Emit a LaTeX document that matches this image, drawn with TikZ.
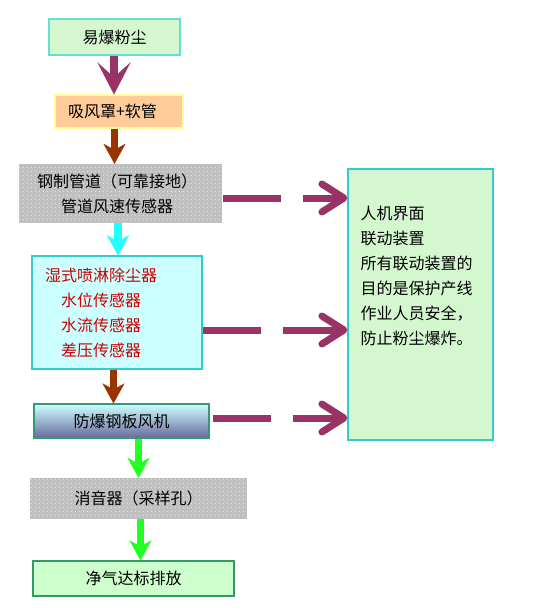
\documentclass[tikz,border=0pt]{standalone}
\usepackage{fontspec}
\setmainfont{Noto Sans CJK SC}
\usetikzlibrary{arrows.meta,positioning,patterns.meta}
\definecolor{dust-mint}{HTML}{D4F7D0}
\definecolor{dust-teal}{HTML}{66DDD0}
\definecolor{hood-peach}{HTML}{FFCC99}
\definecolor{hood-cream}{HTML}{FFFF99}
\definecolor{pipe-grey}{HTML}{C0C0C0}
\definecolor{wash-ice}{HTML}{CCFFFF}
\definecolor{wash-teal}{HTML}{33CCCC}
\definecolor{wash-red}{HTML}{CC0000}
\definecolor{fan-top}{HTML}{CCFFFF}
\definecolor{fan-bottom}{HTML}{6A6A9C}
\definecolor{fan-edge}{HTML}{339977}
\definecolor{vent-green}{HTML}{CCFFCC}
\definecolor{vent-edge}{HTML}{339966}
\definecolor{flow-plum}{HTML}{993366}
\definecolor{flow-rust}{HTML}{993300}
\definecolor{flow-cyan}{HTML}{22FFFF}
\definecolor{flow-lime}{HTML}{22FF22}

\begin{document}
\begin{tikzpicture}[x=1pt, y=-1pt, font=\fontsize{16pt}{25pt}\selectfont,
    box/.style={line width=1.2pt, inner sep=0pt},
    dots box/.style={fill=pipe-grey, inner sep=0pt, postaction={pattern={Dots[radius=0.55pt,distance=4pt]}, pattern color=white}},
    drop/.style={line width=7.5pt, -{Stealth[length=20pt, width=22pt, inset=6pt, line width=0.1pt]}},
    big drop/.style={line width=8pt, -{Stealth[length=32pt, width=33pt, inset=15pt, line width=0.1pt]}},
    link/.style={line width=7pt, flow-plum, dash pattern=on 58pt off 22pt, -{Straight Barb[length=22pt, width=28pt, round]}}]

    \useasboundingbox (0,0) rectangle (534,615);

    \node[box, draw=dust-teal, fill=dust-mint, minimum width=131pt, minimum height=36pt] (1) at (114.5,37) {易爆粉尘};
    \node[box, draw=hood-cream, fill=hood-peach, minimum width=128pt, minimum height=33pt, text width=102pt, inner xsep=13pt, align=left] (2) at (119,111.5) {吸风罩+软管};
    \node[dots box, minimum width=203pt, minimum height=59pt, text width=167pt, inner xsep=18pt, align=left] (3) at (120.5,193.5) {钢制管道（可靠接地）\\\hspace*{1.5em}管道风速传感器};
    \node[box, draw=wash-teal, fill=wash-ice, text=wash-red, minimum width=170pt, minimum height=113pt, text width=144pt, inner xsep=13pt, align=left] (4) at (117,312.5) {湿式喷淋除尘器\\\hspace*{1em}水位传感器\\\hspace*{1em}水流传感器\\\hspace*{1em}差压传感器};
    \node[box, draw=fan-edge, top color=fan-top, bottom color=fan-bottom, minimum width=175pt, minimum height=34pt] (5) at (121.5,421) {防爆钢板风机};
    \node[dots box, minimum width=217pt, minimum height=41pt] (6) at (138.5,498.5) {消音器（采样孔）};
    \node[box, draw=vent-edge, fill=vent-green, minimum width=201pt, minimum height=35pt] (7) at (133.5,578.5) {净气达标排放};

    \node[box, draw=wash-teal, fill=dust-mint, minimum width=145pt, minimum height=271pt] (8) at (420.5,304.5) {};
    \node[anchor=north west, align=left, inner sep=0pt] (9) at ([xshift=13,yshift=-37]8.north west) {人机界面\\联动装置\\所有联动装置的\\目的是保护产线\\作业人员安全，\\防止粉尘爆炸。};

    \draw[big drop, flow-plum] ([xshift=-0.5]1.south) -- ([xshift=-0.5]1.south |- 2.north);
    \draw[drop, flow-rust] ([xshift=-4.5]2.south) -- ([xshift=-4.5]2.south |- 3.north);
    \draw[drop, flow-cyan] ([xshift=-2.5]3.south) -- ([xshift=-2.5]3.south |- 4.north);
    \draw[drop, flow-rust] ([xshift=-3.5]4.south) -- ([xshift=-3.5]4.south |- 5.north);
    \draw[drop, flow-lime] ([xshift=17]5.south) -- ([xshift=17]5.south |- 6.north);
    \draw[drop, flow-lime] ([xshift=2]6.south) -- ([xshift=2]6.south |- 7.north);

    \draw[link] ([xshift=1,yshift=-4.5]3.east) -- ([yshift=-4.5]3.east -| 8.west);
    \draw[link] ([yshift=-17.5]4.east) -- ([yshift=-17.5]4.east -| 8.west);
    \draw[link] ([xshift=3,yshift=3]5.east) -- ([yshift=3]5.east -| 8.west);

\end{tikzpicture}
\end{document}
